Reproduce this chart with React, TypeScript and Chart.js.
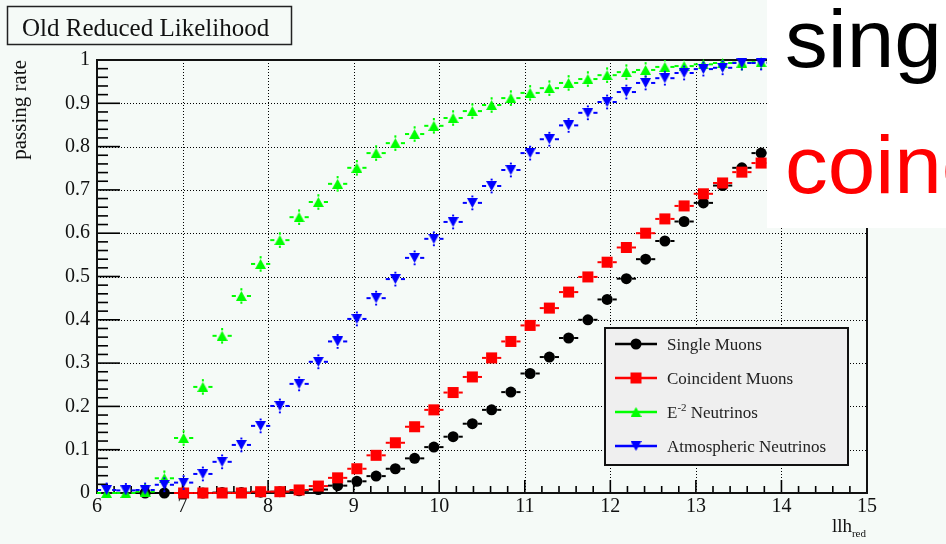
import React, { useEffect, useRef } from 'react';
import { Chart, registerables } from 'chart.js';

Chart.register(...registerables);

// Histogram binning: 40 bins over llh_red in [6, 15]
const BIN_CENTRES = [
  6.1125, 6.3375, 6.5625, 6.7875, 7.0125, 7.2375, 7.4625, 7.6875, 7.9125, 8.1375,
  8.3625, 8.5875, 8.8125, 9.0375, 9.2625, 9.4875, 9.7125, 9.9375, 10.1625, 10.3875,
  10.6125, 10.8375, 11.0625, 11.2875, 11.5125, 11.7375, 11.9625, 12.1875, 12.4125, 12.6375,
  12.8625, 13.0875, 13.3125, 13.5375, 13.7625, 13.9875, 14.2125, 14.4375, 14.6625, 14.8875,
];
const BIN_WIDTH = 0.225;

// Passing rates per bin (null = no entries in that bin)
const SINGLE_MUONS = [
  null, null, 0.0, 0.0, 0.0, 0.0, 0.001, 0.001, 0.002, 0.003,
  0.005, 0.008, 0.017, 0.027, 0.039, 0.056, 0.080, 0.106, 0.130, 0.160,
  0.192, 0.233, 0.276, 0.314, 0.358, 0.400, 0.447, 0.495, 0.540, 0.582,
  0.627, 0.670, 0.710, 0.751, 0.785, 0.815, 0.843, 0.868, 0.889, 0.908,
];
const COINCIDENT_MUONS = [
  null, null, null, null, 0.0, 0.0, 0.0, 0.0, 0.003, 0.003,
  0.007, 0.016, 0.035, 0.056, 0.087, 0.116, 0.153, 0.192, 0.232, 0.268,
  0.312, 0.350, 0.387, 0.427, 0.464, 0.499, 0.533, 0.567, 0.600, 0.633,
  0.663, 0.691, 0.716, 0.741, 0.762, 0.785, 0.806, 0.826, 0.845, 0.862,
];
const E2_NEUTRINOS = [
  0.0, 0.0, 0.003, 0.034, 0.127, 0.245, 0.363, 0.455, 0.529, 0.584,
  0.637, 0.672, 0.714, 0.751, 0.785, 0.808, 0.829, 0.848, 0.866, 0.882,
  0.896, 0.912, 0.924, 0.935, 0.947, 0.956, 0.965, 0.972, 0.977, 0.984,
  0.986, 0.990, 0.993, 0.994, 0.995, 0.996, 0.997, 0.998, 0.998, 0.999,
];
const ATMOSPHERIC_NEUTRINOS = [
  0.007, 0.006, 0.007, 0.019, 0.024, 0.044, 0.072, 0.111, 0.155, 0.201,
  0.252, 0.303, 0.350, 0.402, 0.450, 0.494, 0.543, 0.587, 0.626, 0.670,
  0.709, 0.746, 0.785, 0.817, 0.849, 0.878, 0.903, 0.926, 0.947, 0.958,
  0.970, 0.979, 0.982, 0.993, 0.993, 0.995, 0.996, 0.997, 0.998, 0.998,
];

// Statistical error on the passing rate, per sample
const SINGLE_MUONS_ERR = 0.008;
const COINCIDENT_MUONS_ERR = 0.008;
const E2_NEUTRINOS_ERR = 0.018;
const ATMOSPHERIC_NEUTRINOS_ERR = 0.017;

const SERIES_LABELS = ['Single Muons', 'Coincident Muons', 'E-2 Neutrinos', 'Atmospheric Neutrinos'];
const SERIES_COLORS = ['#000000', '#ff0000', '#00ff00', '#0000ff'];

const X_MIN = 6;
const X_MAX = 15;
const Y_MIN = 0;
const Y_MAX = 1;

const PLOT_TITLE = 'Old Reduced Likelihood';
const Y_TITLE = 'passing rate';
const X_TITLE = 'llh';
const X_TITLE_SUB = 'red';
const NOTE_LINES = ['single', 'coincident'];
const NOTE_COLORS = ['#000000', '#ff0000'];

const BG = '#f5faf7';
const SERIF = '"Liberation Serif", "Times New Roman", serif';
const SANS = '"Liberation Sans", Arial, sans-serif';

function toPoints(values: (number | null)[]) {
  const pts: { x: number; y: number }[] = [];
  values.forEach((v, i) => {
    if (v !== null) pts.push({ x: BIN_CENTRES[i], y: v });
  });
  return pts;
}

function makeTriangle(color: string, down: boolean): HTMLCanvasElement {
  const w = 11;
  const h = 10;
  const c = document.createElement('canvas');
  c.width = w;
  c.height = h;
  const g = c.getContext('2d')!;
  g.fillStyle = color;
  g.beginPath();
  if (down) {
    g.moveTo(0, 0);
    g.lineTo(w, 0);
    g.lineTo(w / 2, h);
  } else {
    g.moveTo(0, h);
    g.lineTo(w, h);
    g.lineTo(w / 2, 0);
  }
  g.closePath();
  g.fill();
  return c;
}

function line(ctx: CanvasRenderingContext2D, x1: number, y1: number, x2: number, y2: number) {
  ctx.beginPath();
  ctx.moveTo(x1, y1);
  ctx.lineTo(x2, y2);
  ctx.stroke();
}

function drawMarker(ctx: CanvasRenderingContext2D, style: any, color: string, x: number, y: number) {
  ctx.fillStyle = color;
  if (style === 'circle') {
    ctx.beginPath();
    ctx.arc(x, y, 5.5, 0, Math.PI * 2);
    ctx.fill();
  } else if (style === 'rect') {
    ctx.fillRect(x - 5.5, y - 5.5, 11, 11);
  } else if (style && style.width) {
    ctx.drawImage(style, x - style.width / 2, y - style.height / 2);
  }
}

const rootStyle = {
  id: 'rootStyle',
  beforeDraw(chart: any) {
    const { ctx, width, height } = chart;
    ctx.save();
    ctx.fillStyle = BG;
    ctx.fillRect(0, 0, width, height);
    ctx.restore();
  },
  beforeDatasetsDraw(chart: any) {
    const { ctx, chartArea: a, scales } = chart;
    const xs = scales.x;
    const ys = scales.y;
    ctx.save();
    // dotted grid at major ticks
    ctx.strokeStyle = '#000';
    ctx.lineWidth = 1;
    ctx.setLineDash([1, 2]);
    for (let v = X_MIN + 1; v < X_MAX; v++) {
      const px = Math.round(xs.getPixelForValue(v)) + 0.5;
      line(ctx, px, a.top, px, a.bottom);
    }
    for (let k = 1; k < 10; k++) {
      const py = Math.round(ys.getPixelForValue(k / 10)) + 0.5;
      line(ctx, a.left, py, a.right, py);
    }
    ctx.setLineDash([]);
    // tick marks drawn inward
    ctx.lineWidth = 1.6;
    ctx.strokeStyle = '#000';
    for (let k = 0; k <= 50; k++) {
      const py = ys.getPixelForValue(k * 0.02);
      line(ctx, a.left, py, a.left + (k % 5 === 0 ? 23 : 11), py);
    }
    for (let k = 0; k <= 45; k++) {
      const px = xs.getPixelForValue(X_MIN + k * 0.2);
      line(ctx, px, a.bottom, px, a.bottom - (k % 5 === 0 ? 13 : 7));
    }
    // frame
    ctx.lineWidth = 2;
    ctx.strokeStyle = '#111';
    ctx.strokeRect(a.left, a.top, a.right - a.left, a.bottom - a.top);
    ctx.restore();
  },
  beforeDatasetDraw(chart: any, args: any) {
    const { ctx } = chart;
    const xs = chart.scales.x;
    const ys = chart.scales.y;
    const ds = chart.data.datasets[args.index];
    const err = ds.errorBar as number;
    const gap = 5.5;
    ctx.save();
    ctx.strokeStyle = ds.borderColor;
    ctx.lineWidth = 2;
    args.meta.data.forEach((el: any, i: number) => {
      const raw = ds.data[i];
      const xl = xs.getPixelForValue(raw.x - BIN_WIDTH / 2);
      const xr = xs.getPixelForValue(raw.x + BIN_WIDTH / 2);
      if (el.x - gap > xl) line(ctx, xl, el.y, el.x - gap, el.y);
      if (xr > el.x + gap) line(ctx, el.x + gap, el.y, xr, el.y);
      const yt = ys.getPixelForValue(Math.min(Y_MAX, raw.y + err));
      const yb = ys.getPixelForValue(Math.max(Y_MIN, raw.y - err));
      if (el.y - yt > gap) line(ctx, el.x, yt, el.x, el.y - gap);
      if (yb - el.y > gap) line(ctx, el.x, el.y + gap, el.x, yb);
    });
    ctx.restore();
  },
  afterDatasetsDraw(chart: any) {
    const { ctx, chartArea: a } = chart;
    ctx.save();

    // legend box
    const lx = 605, ly = 328, lw = 243, lh = 137;
    ctx.fillStyle = '#efefef';
    ctx.fillRect(lx, ly, lw, lh);
    ctx.strokeStyle = '#111';
    ctx.lineWidth = 2;
    ctx.strokeRect(lx, ly, lw, lh);
    const rows = [344, 378, 412, 446];
    chart.data.datasets.forEach((ds: any, i: number) => {
      const ry = rows[i];
      ctx.strokeStyle = ds.borderColor;
      ctx.lineWidth = 2.5;
      line(ctx, 615, ry, 657, ry);
      drawMarker(ctx, ds.pointStyle, ds.borderColor, 636, ry);
      ctx.fillStyle = '#222';
      ctx.textBaseline = 'alphabetic';
      ctx.textAlign = 'left';
      const base = ry + 6;
      if (i === 2) {
        ctx.font = `17px ${SERIF}`;
        ctx.fillText('E', 667, base);
        const ew = ctx.measureText('E').width;
        ctx.font = `11px ${SERIF}`;
        ctx.fillText('-2', 667 + ew, base - 7);
        const sw = ctx.measureText('-2').width;
        ctx.font = `17px ${SERIF}`;
        ctx.fillText(' Neutrinos', 667 + ew + sw, base);
      } else {
        ctx.font = `17px ${SERIF}`;
        ctx.fillText(SERIES_LABELS[i], 667, base);
      }
    });

    // title box
    ctx.strokeStyle = '#222';
    ctx.lineWidth = 1.5;
    ctx.strokeRect(7.5, 6.5, 284, 38);
    ctx.fillStyle = '#111';
    ctx.font = `25px ${SERIF}`;
    ctx.textAlign = 'left';
    ctx.textBaseline = 'alphabetic';
    ctx.fillText(PLOT_TITLE, 22, 36);

    // y axis title, right-aligned at the top of the axis
    ctx.save();
    ctx.translate(26, a.top);
    ctx.rotate(-Math.PI / 2);
    ctx.font = `21px ${SERIF}`;
    ctx.textAlign = 'right';
    ctx.fillText(Y_TITLE, 0, 0);
    ctx.restore();

    // x axis title with subscript
    ctx.textAlign = 'right';
    ctx.font = `11px ${SERIF}`;
    ctx.fillText(X_TITLE_SUB, 866, 537);
    const subW = ctx.measureText(X_TITLE_SUB).width;
    ctx.font = `19px ${SERIF}`;
    ctx.fillText(X_TITLE, 866 - subW, 532);

    ctx.restore();
  },
  afterDraw(chart: any) {
    const { ctx } = chart;
    ctx.save();
    // white note panel in the top-right corner
    ctx.fillStyle = '#ffffff';
    ctx.fillRect(767, 0, chart.width - 767, 228);
    ctx.font = `82px ${SANS}`;
    ctx.textAlign = 'left';
    ctx.textBaseline = 'alphabetic';
    // the note lettering is set slightly wide: its first four glyphs span 787..937
    const m = ctx.measureText(NOTE_LINES[0].slice(0, 4));
    const inkL = -m.actualBoundingBoxLeft;
    const inkR = m.actualBoundingBoxRight;
    const sx = (937 - 787) / (inkR - inkL);
    ctx.translate(787 - inkL * sx, 0);
    ctx.scale(sx, 1);
    ctx.fillStyle = NOTE_COLORS[0];
    ctx.fillText(NOTE_LINES[0], 0, 67);
    ctx.fillStyle = NOTE_COLORS[1];
    ctx.fillText(NOTE_LINES[1], 0, 193);
    ctx.restore();
  },
};

export default function App() {
  const ref = useRef<HTMLCanvasElement>(null);

  useEffect(() => {
    const canvas = ref.current;
    if (!canvas) return;
    const triUp = makeTriangle(SERIES_COLORS[2], false);
    const triDown = makeTriangle(SERIES_COLORS[3], true);

    const common = { showLine: false, clip: false as any, pointBorderWidth: 0 };

    const chart = new Chart(canvas, {
      type: 'scatter',
      data: {
        datasets: [
          {
            ...common,
            label: SERIES_LABELS[0],
            data: toPoints(SINGLE_MUONS),
            borderColor: SERIES_COLORS[0],
            backgroundColor: SERIES_COLORS[0],
            pointStyle: 'circle',
            pointRadius: 5.5,
            order: 4,
            errorBar: SINGLE_MUONS_ERR,
          } as any,
          {
            ...common,
            label: SERIES_LABELS[1],
            data: toPoints(COINCIDENT_MUONS),
            borderColor: SERIES_COLORS[1],
            backgroundColor: SERIES_COLORS[1],
            pointStyle: 'rect',
            pointRadius: 7.8,
            order: 3,
            errorBar: COINCIDENT_MUONS_ERR,
          } as any,
          {
            ...common,
            label: SERIES_LABELS[2],
            data: toPoints(E2_NEUTRINOS),
            borderColor: SERIES_COLORS[2],
            backgroundColor: SERIES_COLORS[2],
            pointStyle: triUp,
            pointRadius: 6,
            order: 2,
            errorBar: E2_NEUTRINOS_ERR,
          } as any,
          {
            ...common,
            label: SERIES_LABELS[3],
            data: toPoints(ATMOSPHERIC_NEUTRINOS),
            borderColor: SERIES_COLORS[3],
            backgroundColor: SERIES_COLORS[3],
            pointStyle: triDown,
            pointRadius: 6,
            order: 1,
            errorBar: ATMOSPHERIC_NEUTRINOS_ERR,
          } as any,
        ],
      },
      options: {
        responsive: false,
        animation: false,
        events: [],
        layout: { padding: { top: 60, right: 79, left: 0, bottom: 0 } },
        plugins: {
          legend: { display: false },
          tooltip: { enabled: false },
          title: { display: false },
        },
        scales: {
          x: {
            type: 'linear',
            min: X_MIN,
            max: X_MAX,
            afterFit(s: any) {
              s.height = 51;
            },
            grid: { display: false, drawTicks: false },
            border: { display: false },
            ticks: {
              stepSize: 1,
              padding: 2,
              autoSkip: false,
              maxRotation: 0,
              color: '#111',
              font: { family: SERIF, size: 20 },
              callback: (v: any) => String(v),
            },
          },
          y: {
            type: 'linear',
            min: Y_MIN,
            max: Y_MAX,
            afterFit(s: any) {
              s.width = 97;
            },
            grid: { display: false, drawTicks: false },
            border: { display: false },
            ticks: {
              stepSize: 0.1,
              padding: 7,
              color: '#111',
              font: { family: SERIF, size: 20 },
              callback: (v: any) => String(Math.round(Number(v) * 10) / 10),
            },
          },
        },
      },
      plugins: [rootStyle as any],
    });

    return () => chart.destroy();
  }, []);

  return (
    <div style={{ position: 'absolute', left: 0, top: 0, width: 946, height: 544, overflow: 'hidden' }}>
      <canvas ref={ref} width={946} height={544} style={{ display: 'block', width: 946, height: 544 }} />
    </div>
  );
}
